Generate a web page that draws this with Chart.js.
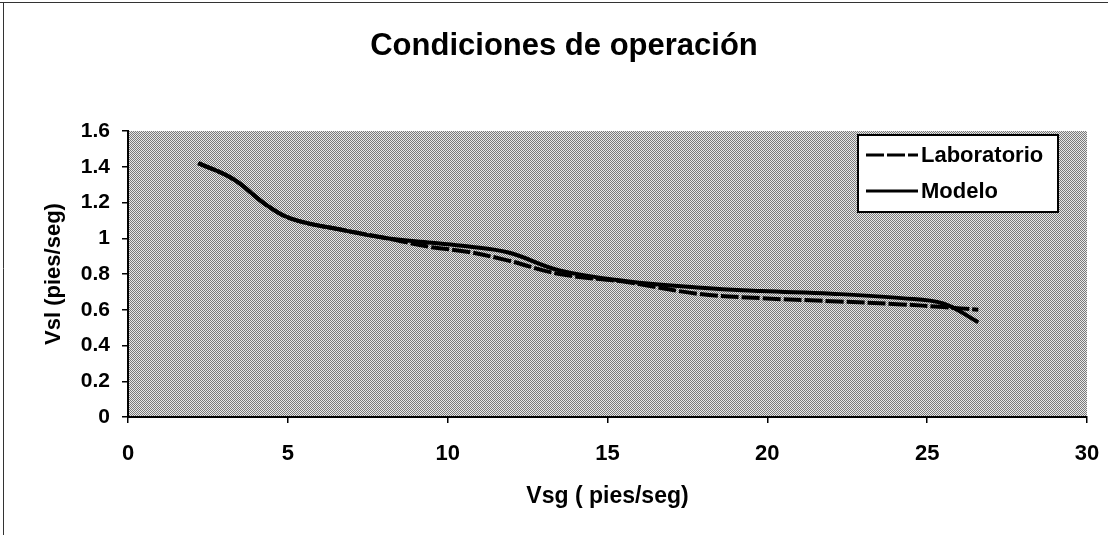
<!DOCTYPE html>
<html>
<head>
<meta charset="utf-8">
<script src="https://cdn.jsdelivr.net/npm/chart.js@4"></script>
<style>
  html, body { margin: 0; padding: 0; background: #fff; }
  #wrap { width: 1108px; height: 535px; position: relative; }
</style>
</head>
<body>
<div id="wrap"><canvas id="chart" width="1108" height="535"></canvas></div>
<script>
// values
const vsgLab = [2.2, 3.3, 4.3, 5.1, 6.6, 8.1, 9.5, 10.6, 11.9, 13.5, 15.6, 17.8, 19.8, 22.0, 24.2, 25.5, 26.6];
const vslLab = [1.42, 1.33, 1.19, 1.11, 1.05, 1.0, 0.95, 0.925, 0.875, 0.80, 0.755, 0.69, 0.665, 0.648, 0.63, 0.615, 0.60];
const vsgModelo = [2.2, 3.3, 4.3, 5.1, 6.6, 8.1, 9.5, 10.6, 11.9, 13.5, 15.6, 17.8, 19.8, 22.0, 24.2, 25.5, 26.6];
const vslModelo = [1.42, 1.33, 1.19, 1.11, 1.05, 1.0, 0.975, 0.955, 0.92, 0.82, 0.76, 0.725, 0.705, 0.69, 0.665, 0.635, 0.53];
const seriesNames = ['Laboratorio', 'Modelo'];
const xTickLabels = ['0', '5', '10', '15', '20', '25', '30'];
const yTickLabels = ['0', '0.2', '0.4', '0.6', '0.8', '1', '1.2', '1.4', '1.6'];

const FONT = '"Liberation Sans", Arial, sans-serif';

function toPoints(xs, ys) {
  return xs.map((x, i) => ({ x: x, y: ys[i] }));
}

// dithered grey like the scanned plot area
function makePattern(ctx) {
  const c = document.createElement('canvas');
  c.width = 2; c.height = 2;
  const p = c.getContext('2d');
  p.fillStyle = '#e8e8e8'; p.fillRect(0, 0, 2, 2);
  p.fillStyle = '#7a7a7a'; p.fillRect(0, 0, 1, 1); p.fillRect(1, 1, 1, 1);
  return ctx.createPattern(c, 'repeat');
}

const plotBg = {
  id: 'plotBg',
  beforeDraw(chart) {
    const { ctx, chartArea: a } = chart;
    ctx.save();
    ctx.fillStyle = makePattern(ctx);
    ctx.fillRect(a.left, a.top, a.right - a.left, a.bottom - a.top);
    ctx.restore();
  }
};

const frame = {
  id: 'frame',
  afterDraw(chart) {
    const ctx = chart.ctx;
    ctx.save();
    ctx.strokeStyle = '#333';
    ctx.lineWidth = 1;
    ctx.beginPath();
    ctx.moveTo(0, 2.5); ctx.lineTo(1108, 2.5);
    ctx.moveTo(3.5, 2); ctx.lineTo(3.5, 535);
    ctx.stroke();
    // title
    ctx.fillStyle = '#000';
    ctx.font = 'bold 31px ' + FONT;
    ctx.textAlign = 'center';
    ctx.textBaseline = 'middle';
    ctx.fillText('Condiciones de operación', 564, 46);
    ctx.restore();
  }
};

const boxLegend = {
  id: 'boxLegend',
  afterDraw(chart) {
    const ctx = chart.ctx;
    const x = 858, y = 135, w = 200, h = 77;
    ctx.save();
    ctx.fillStyle = '#fff';
    ctx.fillRect(x, y, w, h);
    ctx.strokeStyle = '#000';
    ctx.lineWidth = 2;
    ctx.strokeRect(x, y, w, h);
    chart.data.datasets.forEach((ds, i) => {
      const ly = 155 + i * 36;
      ctx.beginPath();
      ctx.lineWidth = 3;
      ctx.setLineDash(ds.borderDash || []);
      ctx.moveTo(866, ly); ctx.lineTo(918, ly);
      ctx.stroke();
      ctx.setLineDash([]);
      ctx.fillStyle = '#000';
      ctx.font = 'bold 22px ' + FONT;
      ctx.textAlign = 'left';
      ctx.textBaseline = 'middle';
      ctx.fillText(ds.label, 921, ly + 1);
    });
    ctx.restore();
  }
};

new Chart(document.getElementById('chart'), {
  type: 'line',
  data: {
    datasets: [
      {
        label: seriesNames[0],
        data: toPoints(vsgLab, vslLab),
        borderColor: '#000',
        borderWidth: 4,
        borderDash: [18, 3],
        pointRadius: 0,
        tension: 0.4,
        fill: false
      },
      {
        label: seriesNames[1],
        data: toPoints(vsgModelo, vslModelo),
        borderColor: '#000',
        borderWidth: 4,
        pointRadius: 0,
        tension: 0.4,
        fill: false
      }
    ]
  },
  options: {
    responsive: false,
    animation: false,
    layout: { padding: { top: 131, left: 41, right: 21, bottom: 0 } },
    plugins: { legend: { display: false }, title: { display: false }, tooltip: { enabled: false } },
    scales: {
      x: {
        type: 'linear',
        min: 0, max: 30,
        afterFit: s => { s.height = 118; s.paddingLeft = 0; s.paddingRight = 0; },
        ticks: {
          stepSize: 5,
          color: '#000',
          padding: 18,
          font: { family: FONT, size: 22, weight: 'bold' },
          callback: (v, i) => xTickLabels[i]
        },
        grid: { drawOnChartArea: false, color: '#000', tickLength: 6, lineWidth: 1.5 },
        border: { color: '#000', width: 2 },
        title: {
          display: true,
          text: 'Vsg ( pies/seg)',
          color: '#000',
          padding: { top: 0, bottom: 25 },
          font: { family: FONT, size: 23, weight: 'bold' }
        }
      },
      y: {
        min: 0, max: 1.6,
        afterFit: s => { s.width = 87; },
        ticks: {
          stepSize: 0.2,
          color: '#000',
          padding: 12,
          font: { family: FONT, size: 21, weight: 'bold' },
          callback: (v, i) => yTickLabels[i]
        },
        grid: { drawOnChartArea: false, color: '#000', tickLength: 6, lineWidth: 1.5 },
        border: { color: '#000', width: 2 },
        title: {
          display: true,
          text: 'Vsl (pies/seg)',
          color: '#000',
          padding: { top: 0, bottom: 0 },
          font: { family: FONT, size: 22, weight: 'bold' }
        }
      }
    }
  },
  plugins: [plotBg, frame, boxLegend]
});
</script>
</body>
</html>
